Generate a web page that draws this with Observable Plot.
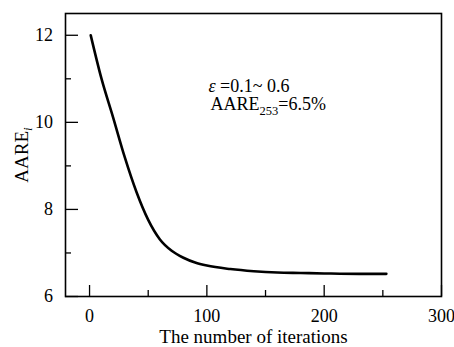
<!DOCTYPE html>
<html><head><meta charset="utf-8">
<script src="https://cdn.jsdelivr.net/npm/d3@7"></script>
<script src="https://cdn.jsdelivr.net/npm/@observablehq/plot@0.6"></script>
<style>
html,body{margin:0;padding:0;background:#fff;}
#chart{width:454px;height:347px;}
#chart svg, #chart svg text{font-family:'Liberation Serif','Times New Roman',serif;}
</style></head><body><div id="chart"></div>
<script>
const iterations = [1, 10, 20, 30, 40, 50, 60, 70, 80, 90, 100, 120, 140, 160, 180, 200, 230, 253];
const aare = [12.0, 11.02, 10.12, 9.2, 8.4, 7.76, 7.31, 7.05, 6.89, 6.78, 6.71, 6.63, 6.58, 6.55, 6.54, 6.53, 6.52, 6.52];
const xMajorTicks = [0, 100, 200, 300];
const xMinorTicks = [50, 150, 250];
const yMajorTicks = [6, 8, 10, 12];
const yMinorTicks = [7, 9, 11];
const xTitle = "The number of iterations";
const yTitle = "AARE";
const yTitleSub = "i";
const noteEps = "ε";
const noteRange = " =0.1~ 0.6";
const noteName = "AARE";
const noteSub = "253";
const noteValue = "=6.5%";

const data = iterations.map((x, i) => ({x, y: aare[i]}));
const serif = "'Liberation Serif', 'Times New Roman', serif";

const chart = Plot.plot({
  width: 454, height: 347,
  marginLeft: 65, marginRight: 13, marginTop: 13, marginBottom: 51,
  style: {fontFamily: serif, fontSize: "18px", color: "#000", background: "#fff", overflow: "visible"},
  x: {domain: [-20.5, 300]},
  y: {domain: [6, 12.5]},
  marks: [
    Plot.axisX({ticks: xMajorTicks, tickSize: -11, tickPadding: 24, tickFormat: d => String(d), label: null, fontSize: 18, fontFamily: serif, strokeWidth: 1.3}),
    Plot.axisX({ticks: xMinorTicks, tickSize: -6, tickFormat: () => "", label: null, strokeWidth: 1.3}),
    Plot.axisY({ticks: yMajorTicks, tickSize: -13, tickPadding: 25.6, tickFormat: d => String(d), label: null, fontSize: 18, fontFamily: serif, strokeWidth: 1.3}),
    Plot.axisY({ticks: yMinorTicks, tickSize: -6, tickFormat: () => "", label: null, strokeWidth: 1.3}),
    Plot.frame({stroke: "#000", strokeWidth: 1.6}),
    Plot.line(data, {x: "x", y: "y", curve: "monotone-x", stroke: "#000", strokeWidth: 2.6}),
    Plot.text([xTitle], {frameAnchor: "bottom", dy: 46, lineAnchor: "bottom", textAnchor: "middle", fontSize: 19, fontFamily: serif}),
    Plot.text([yTitle + yTitleSub], {frameAnchor: "left", dx: -38, rotate: -90, lineAnchor: "bottom", textAnchor: "middle", fontSize: 19, fontFamily: serif}),
    Plot.text([noteEps + noteRange], {frameAnchor: "top-left", dx: 143, dy: 78, lineAnchor: "bottom", textAnchor: "start", fontSize: 18, fontFamily: serif}),
    Plot.text([noteName + noteSub + noteValue], {frameAnchor: "top-left", dx: 145, dy: 96, lineAnchor: "bottom", textAnchor: "start", fontSize: 18, fontFamily: serif})
  ]
});
document.getElementById("chart").appendChild(chart);

// rich text: subscripts and italic epsilon
d3.select(chart).selectAll("text").each(function() {
  const s = this.textContent;
  const t = d3.select(this);
  if (s === yTitle + yTitleSub) {
    t.text(null);
    t.append("tspan").text(yTitle);
    t.append("tspan").attr("dy", 4).attr("font-size", 13).attr("font-style", "italic").text(yTitleSub);
  } else if (s === noteEps + noteRange) {
    t.text(null);
    t.append("tspan").attr("font-style", "italic").text(noteEps);
    t.append("tspan").text(noteRange);
  } else if (s === noteName + noteSub + noteValue) {
    t.text(null);
    t.append("tspan").text(noteName);
    t.append("tspan").attr("dy", 5).attr("font-size", 12.5).text(noteSub);
    t.append("tspan").attr("dy", -5).text(noteValue);
  }
});
</script></body></html>
